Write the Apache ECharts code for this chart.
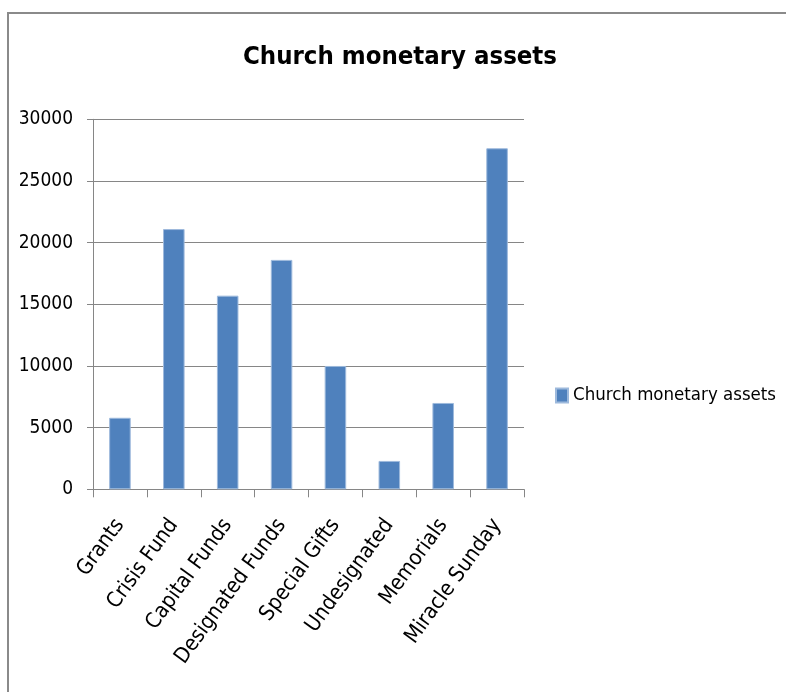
<!DOCTYPE html>
<html>
<head>
<meta charset="utf-8">
<script src="https://cdn.jsdelivr.net/npm/echarts@6/dist/echarts.min.js"></script>
<style>
html,body{margin:0;padding:0;background:#fff;}
#c{width:786px;height:692px;}
</style>
</head>
<body>
<div id="c"></div>
<script>
const categories = ['Grants','Crisis Fund','Capital Funds','Designated Funds','Special Gifts','Undesignated','Memorials','Miracle Sunday'];
const values = [5800, 21100, 15700, 18600, 10000, 2300, 7000, 27650];
const seriesName = 'Church monetary assets';
const titleText = 'Church monetary assets';

const FONT = "'DejaVu Sans Condensed', 'DejaVu Sans', sans-serif";
const chart = echarts.init(document.getElementById('c'), null, {renderer:'canvas'});
chart.setOption({
  animation:false,
  backgroundColor:'#fff',
  textStyle:{fontFamily:FONT},
  graphic:[{
    type:'rect', silent:true, z:-1,
    shape:{x:8, y:13, width:800, height:700},
    style:{fill:'none', stroke:'#8a8a8a', lineWidth:2}
  }],
  title:{
    text:titleText, left:395, top:39, textAlign:'center',
    textStyle:{fontFamily:FONT, fontWeight:'bold', fontSize:25.5, color:'#000'}
  },
  legend:{
    left:555, top:386, padding:0, itemWidth:12, itemHeight:14, itemGap:5,
    icon:'rect',
    textStyle:{fontFamily:FONT, fontSize:18.5, color:'#000', padding:[0,0,0,0]},
    data:[seriesName]
  },
  grid:{left:93, right:262, top:119.3, bottom:202.7, containLabel:false},
  xAxis:{
    type:'category', data:categories, boundaryGap:true,
    axisLine:{lineStyle:{color:'#868686', width:1}},
    axisTick:{show:true, length:8, lineStyle:{color:'#868686'}},
    axisLabel:{rotate:54, interval:0, margin:32, color:'#000', fontFamily:FONT, fontSize:21.5}
  },
  yAxis:{
    type:'value', min:0, max:30000, interval:5000,
    axisLine:{show:true, lineStyle:{color:'#868686', width:1}},
    axisTick:{show:true, length:6, inside:false, lineStyle:{color:'#868686'}},
    splitLine:{show:true, lineStyle:{color:'#868686', width:1}},
    axisLabel:{color:'#000', fontFamily:FONT, fontSize:19, margin:20, formatter:function(v){return String(v);}}
  },
  series:[{
    name:seriesName, type:'bar', data:values,
    barCategoryGap:'60%',
    itemStyle:{color:'#4F81BD', borderColor:'#9DB9DC', borderWidth:1}
  }]
});
</script>
</body>
</html>
